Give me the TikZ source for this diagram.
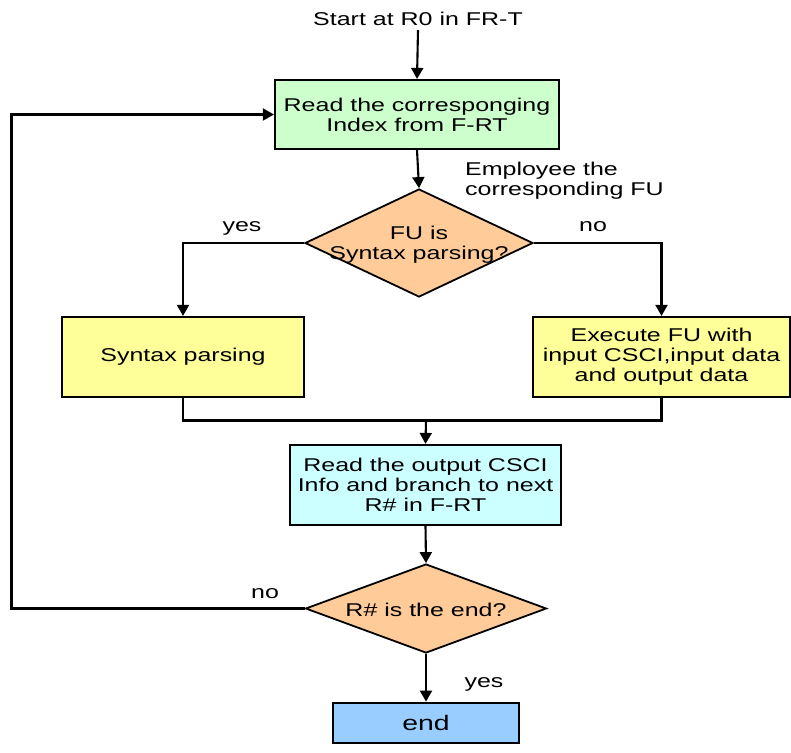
\documentclass[tikz,border=0pt]{standalone}
\usepackage{fontspec}
\setmainfont[FakeStretch=1.35]{Liberation Sans}
\usetikzlibrary{arrows.meta,shapes.geometric}
\definecolor{boxgreen}{HTML}{CCFFCC}
\definecolor{boxyellow}{HTML}{FFFF99}
\definecolor{boxorange}{HTML}{FFCC99}
\definecolor{boxcyan}{HTML}{CCFFFF}
\definecolor{boxblue}{HTML}{99CCFF}
\begin{document}
\begin{tikzpicture}[x=1pt,y=-1pt,
  every node/.style={font=\fontsize{18.5}{19.8}\selectfont, inner sep=0pt},
  procbox/.style={draw=black, line width=2.2pt, rectangle, align=center},
  decbox/.style={draw=black, line width=1.8pt, diamond, fill=boxorange},
  lbl/.style={align=center},
  conn/.style={line width=2.1pt, draw=black},
  arr/.style={conn, -{Triangle[length=11pt,width=12pt]}}]
\useasboundingbox (0,0) rectangle (791,752);

% start label and first process
\node[lbl] (start) at (418,18.5) {Start at R0 in FR-T};
\node[procbox, fill=boxgreen, minimum width=284, minimum height=69] (read) at (417,114.5)
  {Read the corresponging\\Index from F-RT};
\node[lbl, align=left, anchor=west] (emp) at (465,181) {Employee the\\corresponding FU};

% first decision
\node[decbox, minimum width=228, minimum height=108] (d1) at (419,243) {};
\node[lbl] (d1t) at (419,245) {FU is\\Syntax parsing?};
\node[lbl] (yes1) at (242,228) {yes};
\node[lbl] (no1) at (593,227) {no};

% two branches
\node[procbox, fill=boxyellow, minimum width=242, minimum height=80] (syn) at (183,357) {Syntax parsing};
\node[procbox, fill=boxyellow, minimum width=257, minimum height=80] (exec) at (661.5,357)
  {Execute FU with\\input CSCI,input data\\and output data};

% join and next step
\coordinate (join) at (426,420.5);
\node[procbox, fill=boxcyan, minimum width=271, minimum height=80] (next) at (425.5,485)
  {Read the output CSCI\\Info and branch to next\\R\# in F-RT};

% second decision
\node[decbox, minimum width=241, minimum height=89] (d2) at (426,608.5) {};
\node[lbl] (d2t) at (426,610) {R\# is the end?};
\node[lbl] (no2) at (265,594) {no};
\node[lbl] (yes2) at (484,684) {yes};

% end
\node[procbox, fill=boxblue, minimum width=186, minimum height=40,
      font=\fontsize{21}{24}\selectfont] (fin) at (426,722.7) {end};

% loop-back rail
\coordinate (rail) at (11.5,0);

% connectors
\draw[arr] (start.south |- 0,30) -- (read.north);
\draw[arr] (read.south) -- (d1.north);
\draw[arr] (d1.west) -| (syn.north);
\draw[arr] (d1.east) -| (exec.north);
\draw[conn] (syn.south) |- (join) -| (exec.south);
\draw[arr] (join) -- (next.north);
\draw[arr] (next.south) -- (d2.north);
\draw[arr] (d2.south) -- (fin.north);
\draw[arr] (d2.west) -- (d2.west -| rail) |- (read.west);
\end{tikzpicture}
\end{document}
